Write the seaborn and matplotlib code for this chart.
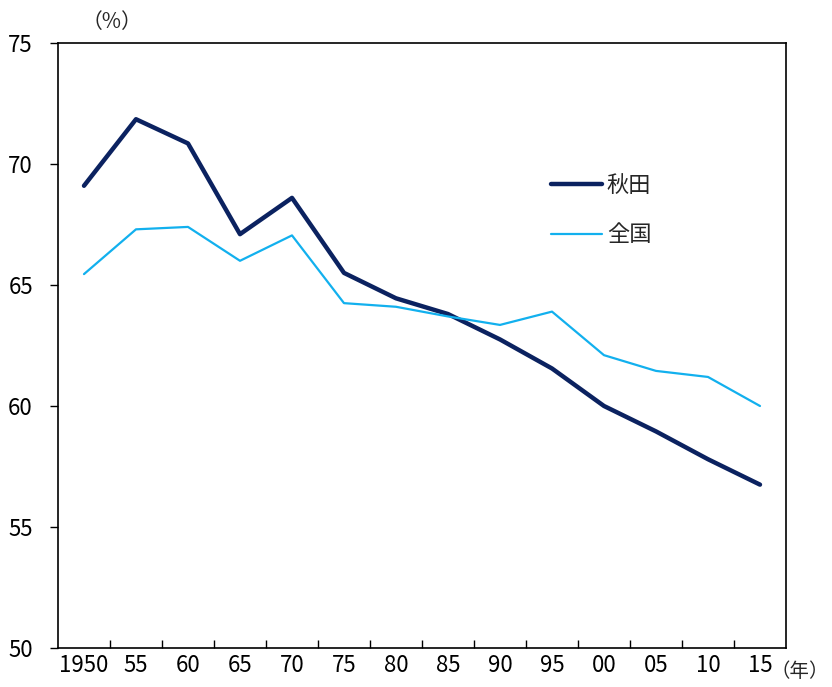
import numpy as np
import pandas as pd
import matplotlib
matplotlib.use('Agg')
import matplotlib.pyplot as plt
import seaborn as sns
from matplotlib.ticker import FixedLocator

# Data
years = ['1950', '55', '60', '65', '70', '75', '80', '85', '90', '95', '00', '05', '10', '15']
akita = [69.1, 71.85, 70.85, 67.1, 68.6, 65.5, 64.45, 63.8, 62.75, 61.55, 60.0, 58.95, 57.8, 56.75]
zenkoku = [65.45, 67.3, 67.4, 66.0, 67.05, 64.25, 64.1, 63.7, 63.35, 63.9, 62.1, 61.45, 61.2, 60.0]

sns.set_theme(style='white')
plt.rcParams['font.family'] = ['Noto Sans CJK JP', 'DejaVu Sans']

df = pd.DataFrame({'pos': np.arange(len(years)), 'akita': akita, 'zenkoku': zenkoku})

fig = plt.figure(figsize=(8.32, 6.87), dpi=100)
ax = fig.add_axes([0.0697, 0.0568, 0.8750, 0.8806])

sns.lineplot(data=df, x='pos', y='akita', ax=ax, color='#0b2260', linewidth=3.2, label='秋田')
sns.lineplot(data=df, x='pos', y='zenkoku', ax=ax, color='#12b0ee', linewidth=1.6, label='全国')

ax.set_xlim(-0.5, len(years) - 0.5)
ax.set_ylim(50, 75)
ax.set_yticks([50, 55, 60, 65, 70, 75])
ax.set_xticks(np.arange(len(years)))
ax.set_xticklabels(years)
ax.xaxis.set_minor_locator(FixedLocator(np.arange(0.5, len(years) - 1, 1)))
ax.tick_params(axis='x', which='major', length=0, pad=4, labelsize=16, colors='black')
ax.tick_params(axis='x', which='minor', bottom=True, direction='in', length=6, width=1, color='black')
ax.tick_params(axis='y', left=True, direction='out', length=6, width=1, pad=12, labelsize=16, colors='black')
ax.set_xlabel('')
ax.set_ylabel('')
for s in ax.spines.values():
    s.set_color('black')
    s.set_linewidth(1.2)

leg = ax.legend(loc='upper left', bbox_to_anchor=(0.65, 0.817), frameon=False, fontsize=16,
                handlelength=2.3, labelspacing=1.2, handletextpad=0.2)

fig.text(0.098, 0.968, '（%）', fontsize=15, ha='left', va='center')
fig.text(0.996, 0.022, '（年）', fontsize=14, ha='right', va='center')

plt.savefig('out.png', dpi=100)
plt.close()
